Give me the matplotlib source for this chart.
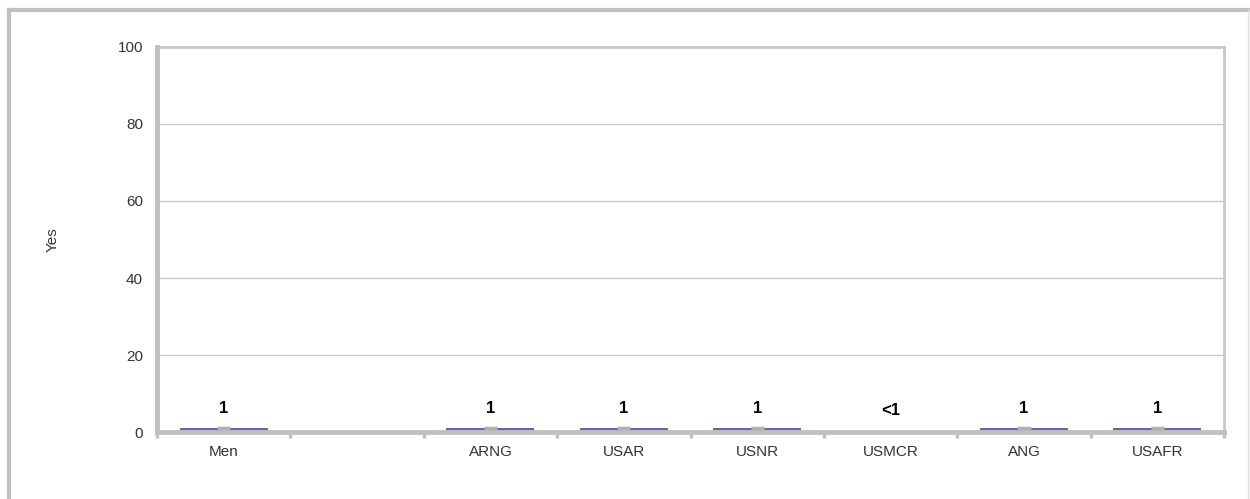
import matplotlib.pyplot as plt
from matplotlib.lines import Line2D
import numpy as np

# Data
categories = ['Men', '', 'ARNG', 'USAR', 'USNR', 'USMCR', 'ANG', 'USAFR']
values = [1, np.nan, 1, 1, 1, 0.3, 1, 1]
value_labels = ['1', '', '1', '1', '1', '<1', '1', '1']
y_ticks = [0, 20, 40, 60, 80, 100]

plt.rcParams['font.family'] = ['Liberation Sans', 'DejaVu Sans']

fig = plt.figure(figsize=(12.5, 4.99), dpi=100)
ax = fig.add_axes([0.1256, 0.134, 0.8536, 0.772])

x = np.arange(len(categories))
bars = ax.bar(x, values, width=0.66, color='#6467a6', linewidth=0, zorder=3)

# small grey cap in the middle of each bar top
for xi, v in zip(x, values):
    if not np.isnan(v) and v >= 1:
        ax.plot([xi - 0.05, xi + 0.05], [v, v], color='#b0b0b0', lw=2.5,
                solid_capstyle='butt', zorder=4)

# value labels
for xi, v, lab in zip(x, values, value_labels):
    if lab:
        ax.annotate(lab, xy=(xi, v), xytext=(0, 9), textcoords='offset points',
                    ha='center', va='bottom', fontsize=12, fontweight='bold',
                    color='black')

ax.set_xlim(-0.5, len(categories) - 0.5)
ax.set_ylim(0, 100)
ax.set_yticks(y_ticks)
ax.yaxis.grid(True, color='#c8c8c8', lw=1, zorder=0)
ax.set_axisbelow(True)

ax.set_xticks(x)
ax.set_xticklabels(categories)
ax.set_xticks(np.arange(len(categories) + 1) - 0.5, minor=True)
ax.tick_params(axis='x', which='major', length=0, pad=9, labelsize=11,
               labelcolor='#333333')
ax.tick_params(axis='x', which='minor', length=4, width=2.5, color='#c0c0c0')
ax.tick_params(axis='y', length=0, pad=10, labelsize=11, labelcolor='#333333')

for side in ['left', 'bottom']:
    ax.spines[side].set_color('#c0c0c0')
    ax.spines[side].set_linewidth(3.5)
    ax.spines[side].set_zorder(3.5)
for side in ['top', 'right']:
    ax.spines[side].set_color('#c8c8c8')
    ax.spines[side].set_linewidth(2)

ax.set_ylabel('Yes', fontsize=11, color='#333333', labelpad=42)

# outer frame of the chart
fig.add_artist(Line2D([0.0072, 1.0], [0.9800, 0.9800], transform=fig.transFigure,
                      color='#c0c0c0', lw=3))
fig.add_artist(Line2D([0.0072, 0.0072], [0.9800, 0.0], transform=fig.transFigure,
                      color='#c0c0c0', lw=3))
fig.add_artist(Line2D([0.9985, 0.9985], [0.9800, 0.0], transform=fig.transFigure,
                      color='#e0e0e0', lw=1))

fig.savefig('out.png', dpi=100)
